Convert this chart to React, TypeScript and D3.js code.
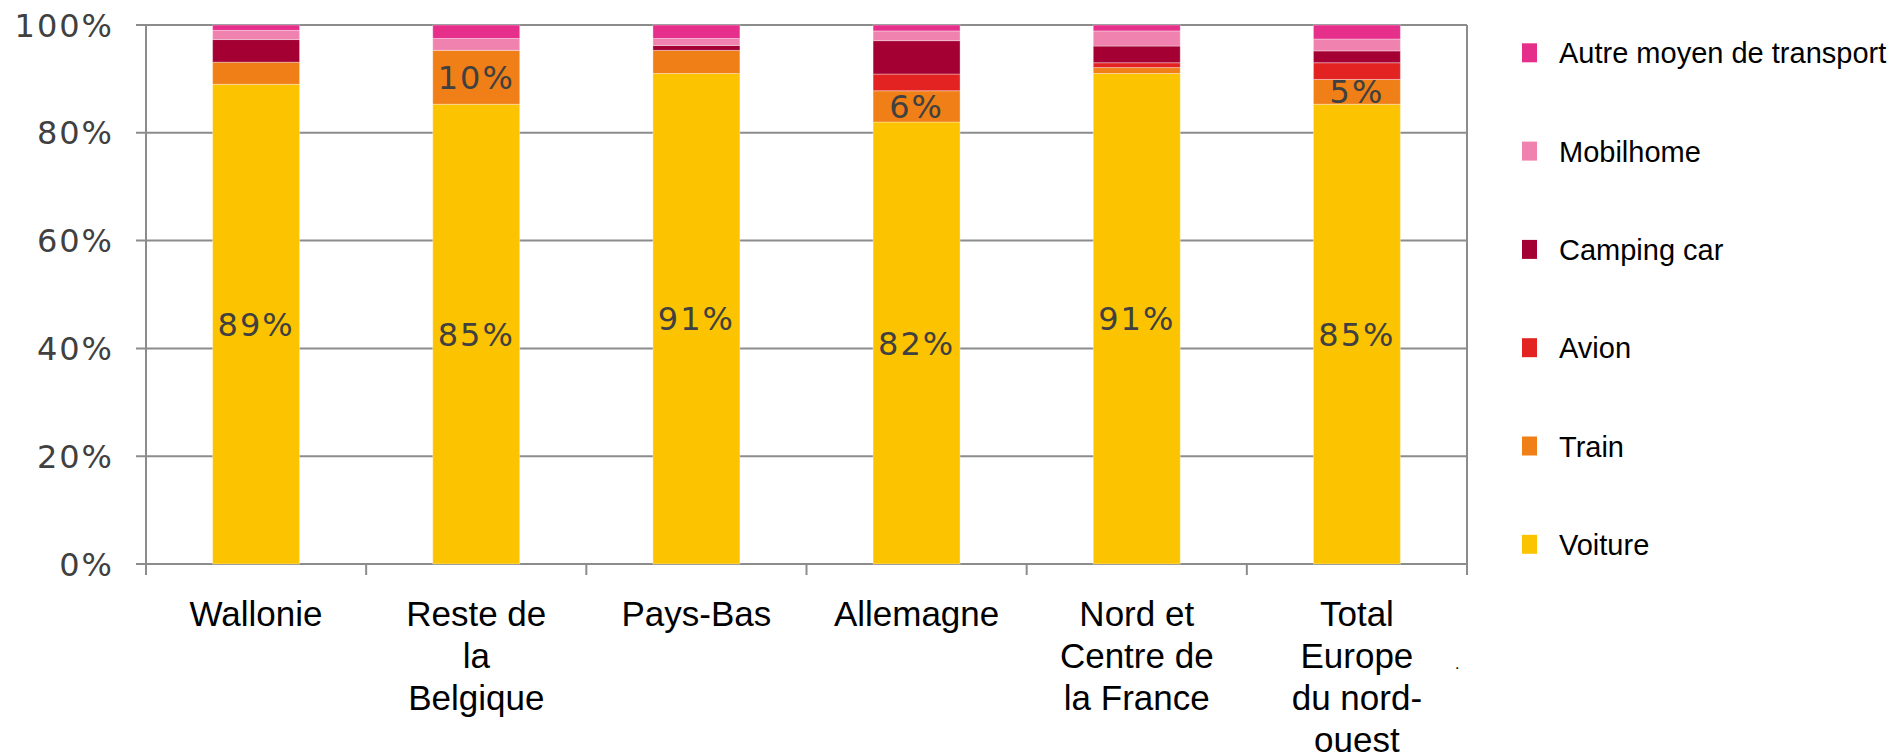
import * as d3 from "d3";
import { useEffect, useRef } from "react";

const categories = [
  "Wallonie",
  "Reste de la Belgique",
  "Pays-Bas",
  "Allemagne",
  "Nord et Centre de la France",
  "Total Europe du nord-ouest",
];

const categoryLines = [
  ["Wallonie"],
  ["Reste de", "la", "Belgique"],
  ["Pays-Bas"],
  ["Allemagne"],
  ["Nord et", "Centre de", "la France"],
  ["Total", "Europe", "du nord-", "ouest"],
];

// stacking order, bottom to top
const seriesNames = ["Voiture", "Train", "Avion", "Camping car", "Mobilhome", "Autre moyen de transport"];
const seriesColors = ["#fcc300", "#ef7f16", "#e32322", "#a40033", "#ef82ae", "#e62e8b"];

// percent values per category
const voiture = [89.0, 85.3, 91.0, 82.0, 91.0, 85.3];
const train = [4.1, 10.0, 4.3, 5.8, 1.1, 4.6];
const avion = [0, 0, 0, 3.1, 0.9, 3.1];
const campingCar = [4.2, 0, 0.9, 6.2, 3.1, 2.2];
const mobilhome = [1.7, 2.2, 1.3, 1.8, 2.8, 2.2];
const autre = [1.0, 2.5, 2.5, 1.1, 1.1, 2.6];

const yTicks = [0, 20, 40, 60, 80, 100];

// series that carry a value label inside the bar
const labelledSeries = ["Voiture", "Train"];

type Row = { category: string; [key: string]: number | string };

export default function App() {
  const svgRef = useRef<SVGSVGElement | null>(null);

  useEffect(() => {
    if (!svgRef.current) return;
    const width = 1894;
    const height = 755;
    const svg = d3.select(svgRef.current);
    svg.selectAll("*").remove();
    svg.attr("viewBox", `0 0 ${width} ${height}`);

    const plot = { left: 146, right: 1467, top: 25, bottom: 564 };
    const gridColor = "#8c8c8c";
    const textGray = "#404040";

    const allSeries = [voiture, train, avion, campingCar, mobilhome, autre];
    const rows: Row[] = categories.map((category, i) => {
      const row: Row = { category };
      seriesNames.forEach((name, s) => {
        row[name] = allSeries[s][i];
      });
      return row;
    });

    const x = d3
      .scaleBand<string>()
      .domain(categories)
      .range([plot.left, plot.right])
      .paddingInner(0.605)
      .paddingOuter(0.3025);

    const y = d3.scaleLinear().domain([0, 100]).range([plot.bottom, plot.top]);

    // gridlines
    svg
      .append("g")
      .selectAll("line")
      .data(yTicks)
      .join("line")
      .attr("x1", plot.left - 10)
      .attr("x2", plot.right)
      .attr("y1", (t) => y(t))
      .attr("y2", (t) => y(t))
      .attr("stroke", gridColor)
      .attr("stroke-width", 2);

    // y tick labels
    svg
      .append("g")
      .selectAll("text")
      .data(yTicks)
      .join("text")
      .attr("x", plot.left - 32)
      .attr("y", (t) => y(t))
      .attr("dy", "0.36em")
      .attr("text-anchor", "end")
      .attr("font-family", "DejaVu Sans, sans-serif")
      .attr("font-size", 32)
      .attr("letter-spacing", 2)
      .attr("fill", textGray)
      .text((t) => `${t}%`);

    // x tick marks at band boundaries
    const bounds = d3.range(categories.length + 1).map((i) => plot.left + i * x.step());
    svg
      .append("g")
      .selectAll("line")
      .data(bounds)
      .join("line")
      .attr("x1", (b) => b)
      .attr("x2", (b) => b)
      .attr("y1", plot.bottom)
      .attr("y2", plot.bottom + 11)
      .attr("stroke", gridColor)
      .attr("stroke-width", 2);

    // y axis and right border
    svg
      .append("line")
      .attr("x1", plot.left)
      .attr("x2", plot.left)
      .attr("y1", plot.top)
      .attr("y2", plot.bottom + 11)
      .attr("stroke", gridColor)
      .attr("stroke-width", 2);
    svg
      .append("line")
      .attr("x1", plot.right)
      .attr("x2", plot.right)
      .attr("y1", plot.top)
      .attr("y2", plot.bottom + 11)
      .attr("stroke", gridColor)
      .attr("stroke-width", 2);

    const stacked = d3.stack<Row>().keys(seriesNames)(rows);
    const color = d3.scaleOrdinal<string, string>().domain(seriesNames).range(seriesColors);

    const layers = svg
      .append("g")
      .selectAll("g")
      .data(stacked)
      .join("g")
      .attr("fill", (d) => color(d.key));

    layers
      .selectAll("rect")
      .data((d) => d.filter((seg) => seg[1] - seg[0] > 0))
      .join("rect")
      .attr("x", (seg) => x(seg.data.category as string) ?? 0)
      .attr("width", x.bandwidth())
      .attr("y", (seg) => y(seg[1]))
      .attr("height", (seg) => y(seg[0]) - y(seg[1]))
      .attr("stroke", "rgba(255,255,255,0.35)")
      .attr("stroke-width", 1);

    // value labels
    const labelData = stacked
      .filter((layer) => labelledSeries.includes(layer.key))
      .flatMap((layer) => layer.map((seg) => ({ seg, value: seg[1] - seg[0] })))
      .filter((d) => Math.round(d.value) >= 5);

    svg
      .append("g")
      .selectAll("text")
      .data(labelData)
      .join("text")
      .attr("x", (d) => (x(d.seg.data.category as string) ?? 0) + x.bandwidth() / 2)
      .attr("y", (d) => y((d.seg[0] + d.seg[1]) / 2))
      .attr("dy", "0.36em")
      .attr("text-anchor", "middle")
      .attr("font-family", "DejaVu Sans, sans-serif")
      .attr("font-size", 32)
      .attr("letter-spacing", 2)
      .attr("fill", textGray)
      .text((d) => `${Math.round(d.value)}%`);

    // category labels
    const catGroup = svg.append("g");
    categories.forEach((cat, i) => {
      const cx = (x(cat) ?? 0) + x.bandwidth() / 2;
      const t = catGroup
        .append("text")
        .attr("text-anchor", "middle")
        .attr("font-family", "Liberation Sans, Arial, sans-serif")
        .attr("font-size", 35)
        .attr("fill", "#000");
      categoryLines[i].forEach((line, j) => {
        t.append("tspan")
          .attr("x", cx)
          .attr("y", 626 + j * 42)
          .text(line);
      });
    });

    svg
      .append("text")
      .attr("x", 1455)
      .attr("y", 669)
      .attr("font-family", "Liberation Sans, Arial, sans-serif")
      .attr("font-size", 16)
      .attr("fill", "#000")
      .text(".");

    // legend, top to bottom
    const legendItems = seriesNames.slice().reverse();
    const legend = svg
      .append("g")
      .selectAll("g")
      .data(legendItems)
      .join("g")
      .attr("transform", (_, i) => `translate(1522, ${63.3 + i * 98.3})`);

    legend
      .append("rect")
      .attr("x", 0)
      .attr("y", -20)
      .attr("width", 15)
      .attr("height", 19)
      .attr("fill", (d) => color(d));

    legend
      .append("text")
      .attr("x", 37)
      .attr("y", 0)
      .attr("font-family", "Liberation Sans, Arial, sans-serif")
      .attr("font-size", 29)
      .attr("fill", "#000")
      .text((d) => d);
  }, []);

  return (
    <svg
      ref={svgRef}
      width={1894}
      height={755}
      style={{ position: "absolute", left: 0, top: 0, background: "#fff" }}
    />
  );
}
